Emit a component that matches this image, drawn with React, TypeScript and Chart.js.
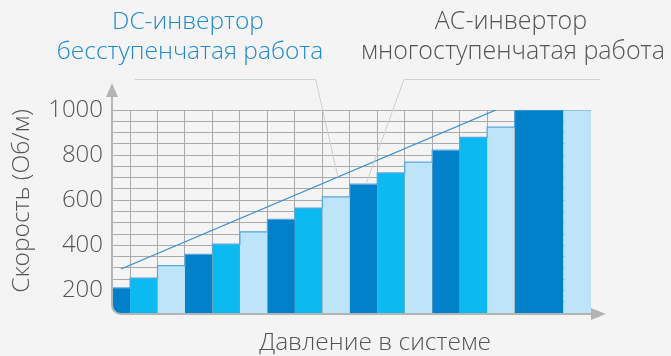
import React, { useEffect, useRef } from 'react';
import { Chart, registerables } from 'chart.js';

Chart.register(...registerables);

// ---- data ----
const barLeftEdges = [0.38, 1, 2, 3, 4, 5, 6, 7, 8, 9, 10, 11, 12, 13, 14, 15, 16.78];
const barRightEdges = [1, 2, 3, 4, 5, 6, 7, 8, 9, 10, 11, 12, 13, 14, 15, 16.78, 17.78];
const speedValues = [211, 255, 310, 360, 405, 460, 515, 565, 615, 671, 721, 769, 822, 879, 924, 1000, 1000];
const barTiers = ['dark', 'medium', 'light', 'dark', 'medium', 'light', 'dark', 'medium', 'light', 'dark', 'medium', 'light', 'dark', 'medium', 'light', 'dark', 'light'];
const yTickLabels = [200, 400, 600, 800, 1000];
const trendX = [0.67, 14.32];
const trendY = [295, 1000];
const dcLeaderX = [1.18, 7.76, 8.57];
const dcLeaderY = [1135, 1135, 703];
const acLeaderX = [18.11, 10.97, 9.59];
const acLeaderY = [1135, 1135, 672];
const dcLabel = ['DC-инвертор', 'бесступенчатая работа'];
const acLabel = ['AC-инвертор', 'многоступенчатая работа'];
const yTitle = 'Скорость (Об/м)';
const xTitle = 'Давление в системе';

const BG = '#f4f4f4';
const FONT = "'Open Sans', sans-serif";
const tierColor: Record<string, string> = {
  dark: '#0081c9',
  medium: '#0bbaf0',
  light: '#bee4f9',
};

const decorPlugin = {
  id: 'decor',
  afterDatasetsDraw(chart: any) {
    const { ctx, chartArea } = chart;
    const L = chartArea.left - 1;
    const B = chartArea.bottom + 1;
    const R = chartArea.right;
    const r = 9;
    ctx.save();
    // rounded corner mask
    ctx.fillStyle = BG;
    ctx.beginPath();
    ctx.moveTo(L - 2, B - r);
    ctx.lineTo(L - 2, B + 2);
    ctx.lineTo(L + r, B + 2);
    ctx.arc(L + r, B - r, r, Math.PI / 2, Math.PI, false);
    ctx.closePath();
    ctx.fill();
    // axes
    ctx.strokeStyle = '#b4b4b4';
    ctx.lineWidth = 2;
    ctx.beginPath();
    ctx.moveTo(L, chartArea.top - 13);
    ctx.lineTo(L, B - r);
    ctx.arc(L + r, B - r, r, Math.PI, Math.PI / 2, true);
    ctx.lineTo(R, B);
    ctx.stroke();
    ctx.fillStyle = '#b4b4b4';
    ctx.beginPath();
    ctx.moveTo(L - 6, chartArea.top - 13);
    ctx.lineTo(L + 6, chartArea.top - 13);
    ctx.lineTo(L, chartArea.top - 27);
    ctx.closePath();
    ctx.fill();
    ctx.beginPath();
    ctx.moveTo(R, B - 6);
    ctx.lineTo(R, B + 6);
    ctx.lineTo(R + 15, B);
    ctx.closePath();
    ctx.fill();

    // texts
    ctx.textAlign = 'center';
    ctx.textBaseline = 'middle';
    ctx.font = `300 24.5px ${FONT}`;
    ctx.fillStyle = '#1f8ad3';
    ctx.fillText(dcLabel[0], 188, 22);
    ctx.fillText(dcLabel[1], 190, 52);
    ctx.fillStyle = '#555555';
    ctx.font = `300 25px ${FONT}`;
    ctx.fillText(acLabel[0], 511, 22);
    ctx.fillText(acLabel[1], 513, 52);
    ctx.font = `300 24.5px ${FONT}`;
    ctx.fillText(xTitle, 375, 343);
    ctx.translate(22, 201);
    ctx.rotate(-Math.PI / 2);
    ctx.fillText(yTitle, 0, 0);
    ctx.restore();
  },
};

export default function App() {
  const ref = useRef<HTMLCanvasElement>(null);
  useEffect(() => {
    if (!ref.current) return;
    const barSets = speedValues.map((v, i) => ({
      type: 'line' as const,
      data: [
        { x: barLeftEdges[i], y: v },
        { x: barRightEdges[i], y: v },
      ],
      backgroundColor: tierColor[barTiers[i]],
      borderWidth: 0,
      pointRadius: 0,
      fill: 'start',
      order: 10,
    }));
    const stepData = speedValues.map((v, i) => ({ x: barLeftEdges[i], y: v }));
    stepData.push({ x: barRightEdges[barRightEdges.length - 1], y: speedValues[speedValues.length - 1] });
    const chart = new Chart(ref.current, {
      type: 'line',
      data: {
        datasets: [
          ...barSets,
          {
            data: stepData,
            borderColor: '#5aa6de',
            borderWidth: 1.2,
            stepped: 'before',
            pointRadius: 0,
            fill: false,
            order: 5,
          },
          {
            data: trendX.map((x, i) => ({ x, y: trendY[i] })),
            borderColor: '#3a8fd3',
            borderWidth: 1.3,
            pointRadius: 0,
            fill: false,
            order: 2,
          },
          {
            data: dcLeaderX.map((x, i) => ({ x, y: dcLeaderY[i] })),
            borderColor: '#cfcfcf',
            borderWidth: 1,
            pointRadius: 0,
            fill: false,
            clip: false,
            order: 1,
          },
          {
            data: acLeaderX.map((x, i) => ({ x, y: acLeaderY[i] })),
            borderColor: '#cfcfcf',
            borderWidth: 1,
            pointRadius: 0,
            fill: false,
            clip: false,
            order: 1,
          },
        ] as any,
      },
      options: {
        animation: false,
        responsive: false,
        maintainAspectRatio: false,
        layout: { padding: { left: 0, right: 80, top: 110, bottom: 0 } },
        plugins: { legend: { display: false }, tooltip: { enabled: false } },
        scales: {
          x: {
            type: 'linear',
            min: 0.38,
            max: 17.78,
            ticks: { display: false, stepSize: 1, includeBounds: false, autoSkip: false },
            grid: { color: '#aaaaaa', lineWidth: 1, drawTicks: false },
            border: { display: false },
            afterFit: (s: any) => { s.height = 43; },
          },
          y: {
            type: 'linear',
            min: 100,
            max: 1000,
            ticks: {
              stepSize: 50,
              autoSkip: false,
              padding: 10,
              color: '#555555',
              font: { family: FONT, size: 24, weight: '300' },
              callback: (v: any) => (yTickLabels.includes(Number(v)) ? String(v) : ''),
            },
            grid: { color: '#aaaaaa', lineWidth: 1, drawTicks: false },
            border: { display: false },
            afterFit: (s: any) => { s.width = 113; },
          },
        },
      },
      plugins: [decorPlugin],
    });
    return () => chart.destroy();
  }, []);
  return (
    <div style={{ position: 'fixed', left: 0, top: 0, width: 671, height: 356, background: BG }}>
      <canvas ref={ref} width={671} height={356} style={{ display: 'block', width: 671, height: 356 }} />
    </div>
  );
}
